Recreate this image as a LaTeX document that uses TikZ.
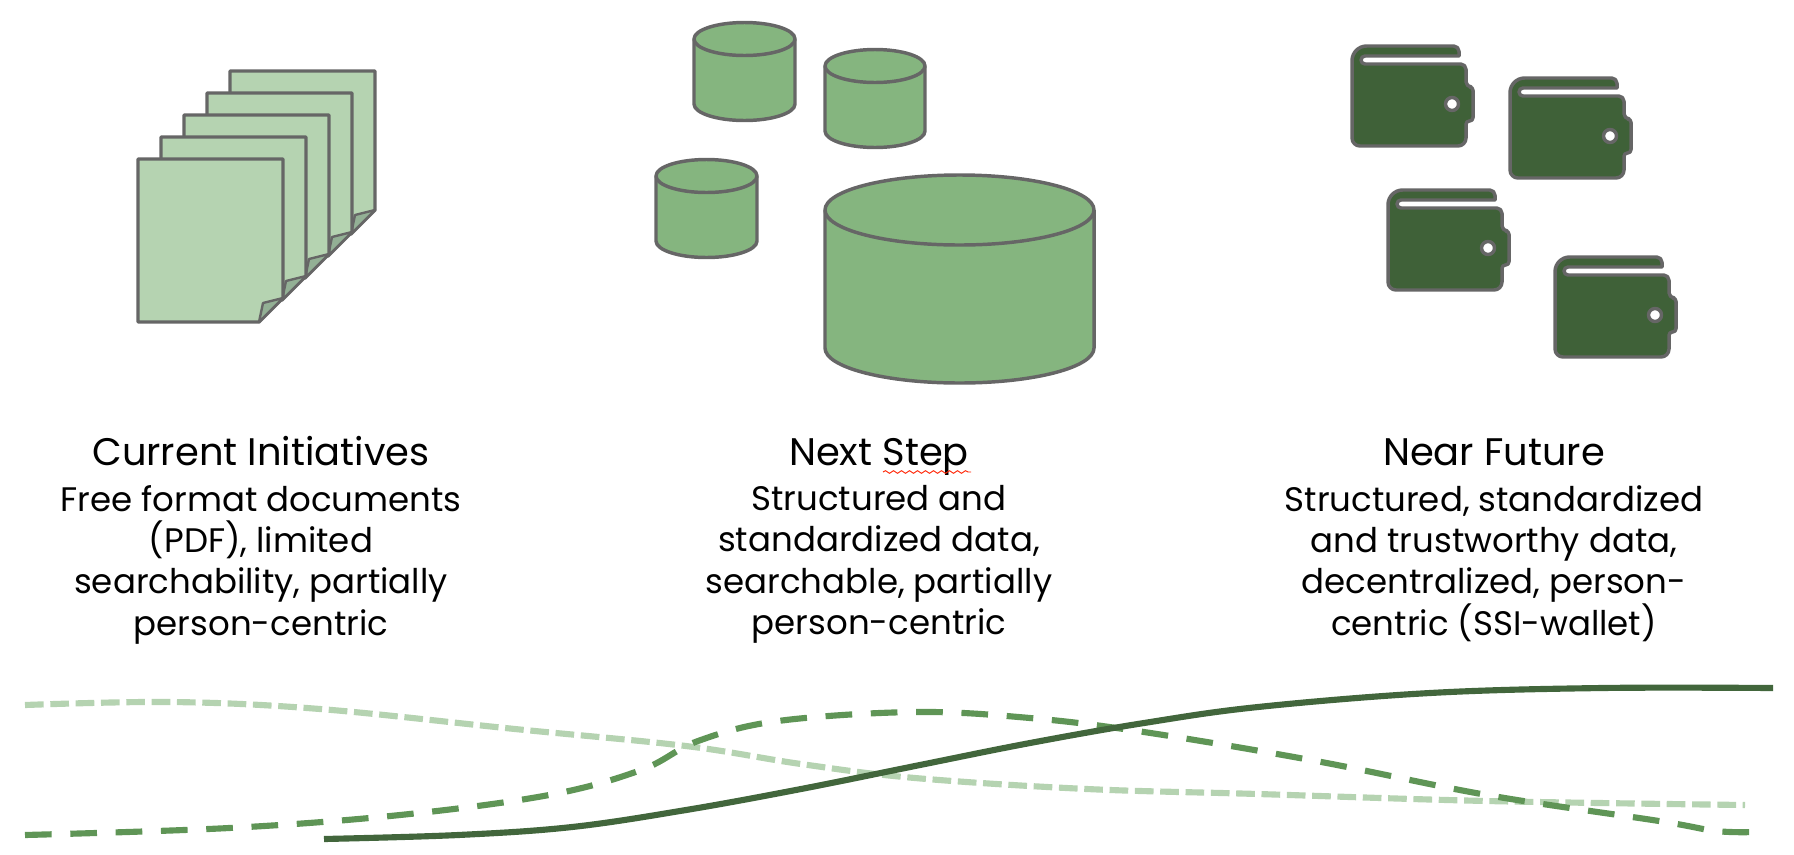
\documentclass[tikz,border=0pt]{standalone}
\usepackage{fontspec}
\setmainfont{Poppins}
\usetikzlibrary{positioning,decorations.pathmorphing}
\definecolor{edgegrey}{HTML}{666666}
\definecolor{sheetgreen}{HTML}{B5D3B1}
\definecolor{foldgreen}{HTML}{93B095}
\definecolor{drumgreen}{HTML}{85B57F}
\definecolor{walletgreen}{HTML}{3F6138}
\definecolor{lowline}{HTML}{B5D3B1}
\definecolor{midline}{HTML}{5F9556}
\definecolor{topline}{HTML}{42663C}
\tikzset{
  outline/.style = {draw=edgegrey, line width=2.6pt, line join=round},
  title/.style   = {font=\fontsize{28.8}{31}\selectfont, inner sep=0pt},
  body/.style    = {font=\fontsize{25.5}{31}\selectfont, align=center, inner sep=0pt},
  pics/sheet/.style = {code={
    \draw[outline, fill=sheetgreen] (0,0) -- (145,0) -- (145,139) -- (121,163) -- (0,163) -- cycle;
    \draw[outline, fill=foldgreen, line width=1.8pt] (145,139) -- (125,144) -- (121,163) -- cycle;
  }},
  pics/drum/.style n args = {3}{code={
    \draw[outline, fill=drumgreen] (0,0) -- (0,#2) arc[start angle=180, end angle=0, x radius=#1/2, y radius=#3] -- (#1,0)
      arc[start angle=0, end angle=-180, x radius=#1/2, y radius=#3] -- cycle;
    \draw[outline] (0,0) arc[start angle=180, end angle=0, x radius=#1/2, y radius=#3];
  }},
  pics/wallet/.style = {code={
    \draw[outline, fill=walletgreen, rounded corners=4pt] (0,0) -- (107,0) [sharp corners] -- (107,10) -- (13,10)
      arc[start angle=270, end angle=90, radius=4] -- (108,18) [rounded corners=4pt] -- (114,18) -- (114,41) [rounded corners=2.5pt]
      -- (121,41) -- (121,75) -- (114,75) [rounded corners=6pt] -- (114,100) -- (0,100) [rounded corners=11pt] -- cycle;
    \draw[outline, fill=white] (100,58) circle[radius=6.5];
  }},
}
\begin{document}
\begin{tikzpicture}[x=0.75pt, y=-0.75pt]
  \useasboundingbox (0,0) rectangle (1794,854);
  % sheets, back to front
  \foreach \k in {4,3,2,1,0} {
    \pic at ({138+23*\k},{159-22*\k}) {sheet};
  }
  % drums
  \pic at (694,39) {drum={101}{65}{16.5}};
  \pic at (825,66) {drum={100}{65}{16.5}};
  \pic at (656,176) {drum={101}{65}{16.5}};
  \pic at (825,210) {drum={269}{138}{35}};
  % wallets
  \pic at (1352,46) {wallet};
  \pic at (1510,78) {wallet};
  \pic at (1388,190) {wallet};
  \pic at (1555,257) {wallet};

  \node[title, anchor=base] (now) at (261,465) {Current Initiatives};
  \node[title, anchor=base] (next) at (879,465) {Next Step};
  \node[title, anchor=base] (future) at (1494,465) {Near Future};
  \node[body, below=15pt of now.base] (nowtext) {Free format documents\\(PDF), limited\\searchability, partially\\person-centric};
  \node[body, below=15pt of next.base] (nexttext) {Structured and\\standardized data,\\searchable, partially\\person-centric};
  \node[body, below=15pt of future.base] (futuretext) {Structured, standardized\\and trustworthy data,\\decentralized, person-\\centric (SSI-wallet)};
  \draw[red!75!orange, line width=0.7pt, decorate, decoration={snake, amplitude=1pt, segment length=6pt}] (883,472) -- (971,472);

  % the three curves
  \draw[lowline, line width=4.6pt, dash pattern=on 14pt off 5pt] plot[smooth, tension=0.6] coordinates
    {(25,705) (172,702) (320,709) (515,729) (686,746) (801,764) (915,778) (1087,789) (1258,794) (1487,801) (1745,805)};
  \draw[midline, line width=4.6pt, dash pattern=on 20pt off 14pt] plot[smooth, tension=0.6] coordinates
    {(25,835) (229,828) (400,815) (549,795) (641,770) (698,741) (778,721) (915,712) (1030,718) (1144,732) (1316,761) (1487,795) (1659,821) (1716,831) (1755,832)};
  \draw[topline, line width=4.6pt] plot[smooth, tension=0.6] coordinates
    {(324,839) (458,835) (572,827) (686,810) (801,789) (915,766) (1030,743) (1144,723) (1258,707) (1430,693) (1602,688) (1773,688)};
\end{tikzpicture}
\end{document}
